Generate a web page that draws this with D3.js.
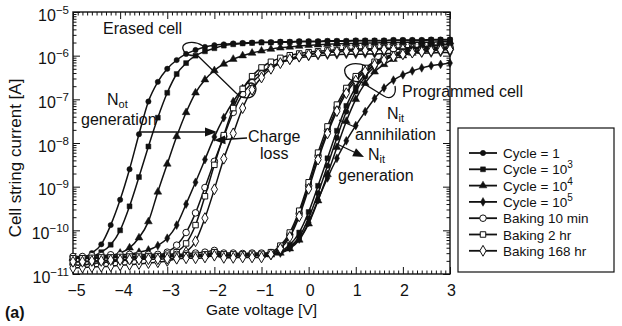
<!DOCTYPE html>
<html><head><meta charset="utf-8">
<script src="https://cdn.jsdelivr.net/npm/d3@7"></script>
<style>
body{margin:0;background:#fff}
svg{display:block}
text{font-family:"Liberation Sans",Arial,Helvetica,sans-serif;fill:#111}
</style>
</head><body>
<svg id="c" width="622" height="326"></svg>
<script>
// Gate voltage grid [V]
const gateV = [-5,-4.8,-4.6,-4.4,-4.2,-4,-3.8,-3.6,-3.4,-3.2,-3,-2.8,-2.6,-2.4,-2.2,-2,-1.8,-1.6,-1.4,-1.2,-1,-0.8,-0.6,-0.4,-0.2,0,0.2,0.4,0.6,0.8,1,1.2,1.4,1.6,1.8,2,2.2,2.4,2.6,2.8,3];

// log10 of cell string current [A] — erased cell
const erasedCycle1   = [-10.64,-10.62,-10.52,-10.32,-9.88,-9.30,-8.60,-7.80,-7.05,-6.60,-6.30,-6.10,-5.96,-5.87,-5.80,-5.76,-5.74,-5.72,-5.71,-5.70,-5.69,-5.69,-5.68,-5.68,-5.67,-5.67,-5.67,-5.66,-5.66,-5.66,-5.65,-5.65,-5.65,-5.65,-5.64,-5.64,-5.64,-5.64,-5.63,-5.63,-5.63];
const erasedCycle1e3 = [-10.64,-10.64,-10.60,-10.50,-10.33,-10.00,-9.45,-8.78,-8.08,-7.42,-6.85,-6.42,-6.17,-6.00,-5.90,-5.83,-5.77,-5.74,-5.72,-5.71,-5.70,-5.70,-5.69,-5.69,-5.68,-5.68,-5.68,-5.67,-5.67,-5.67,-5.66,-5.66,-5.66,-5.66,-5.65,-5.65,-5.65,-5.65,-5.64,-5.64,-5.64];
const erasedCycle1e4 = [-10.64,-10.64,-10.63,-10.61,-10.58,-10.52,-10.40,-10.17,-9.80,-9.12,-8.48,-7.85,-7.30,-6.85,-6.55,-6.34,-6.19,-6.08,-6.00,-5.94,-5.89,-5.85,-5.82,-5.80,-5.78,-5.76,-5.75,-5.74,-5.73,-5.72,-5.72,-5.71,-5.71,-5.70,-5.70,-5.70,-5.69,-5.69,-5.69,-5.68,-5.68];
const erasedCycle1e5 = [-10.64,-10.64,-10.63,-10.62,-10.60,-10.58,-10.55,-10.50,-10.45,-10.35,-10.18,-9.88,-9.40,-8.90,-8.38,-7.86,-7.42,-7.05,-6.75,-6.52,-6.37,-6.26,-6.16,-6.10,-6.05,-6.02,-6.00,-5.99,-5.98,-5.97,-5.97,-5.96,-5.96,-5.95,-5.95,-5.95,-5.94,-5.94,-5.94,-5.93,-5.93];
const erasedBake10   = [-10.78,-10.80,-10.76,-10.74,-10.72,-10.70,-10.68,-10.65,-10.62,-10.58,-10.50,-10.34,-10.05,-9.60,-9.02,-8.42,-7.85,-7.30,-6.88,-6.62,-6.42,-6.27,-6.15,-6.07,-6.01,-5.97,-5.94,-5.92,-5.90,-5.89,-5.88,-5.87,-5.86,-5.85,-5.85,-5.84,-5.84,-5.83,-5.83,-5.82,-5.82];
const erasedBake2h   = [-10.72,-10.72,-10.71,-10.70,-10.69,-10.68,-10.66,-10.65,-10.63,-10.61,-10.58,-10.50,-10.30,-9.88,-9.22,-8.50,-7.82,-7.20,-6.76,-6.47,-6.27,-6.14,-6.05,-5.99,-5.95,-5.92,-5.90,-5.88,-5.87,-5.86,-5.85,-5.84,-5.84,-5.83,-5.83,-5.82,-5.82,-5.81,-5.81,-5.80,-5.80];
const erasedBake168  = [-10.86,-10.85,-10.84,-10.83,-10.82,-10.80,-10.79,-10.77,-10.75,-10.73,-10.70,-10.64,-10.50,-10.25,-9.72,-9.06,-8.36,-7.78,-7.20,-6.78,-6.50,-6.30,-6.17,-6.08,-6.02,-5.98,-5.95,-5.93,-5.91,-5.90,-5.89,-5.88,-5.87,-5.86,-5.86,-5.85,-5.85,-5.85,-5.84,-5.84,-5.84];

// log10 of cell string current [A] — programmed cell
const progCycle1   = [-10.62,-10.62,-10.61,-10.62,-10.60,-10.61,-10.60,-10.60,-10.58,-10.60,-10.58,-10.58,-10.56,-10.58,-10.57,-10.52,-10.56,-10.56,-10.55,-10.55,-10.55,-10.55,-10.50,-10.38,-10.15,-9.72,-9.15,-8.52,-7.88,-7.28,-6.82,-6.48,-6.25,-6.10,-5.99,-5.92,-5.86,-5.82,-5.78,-5.76,-5.74];
const progCycle1e3 = [-10.63,-10.63,-10.62,-10.62,-10.61,-10.61,-10.61,-10.60,-10.60,-10.59,-10.59,-10.58,-10.58,-10.58,-10.57,-10.54,-10.57,-10.56,-10.56,-10.56,-10.55,-10.55,-10.48,-10.33,-10.05,-9.58,-8.98,-8.35,-7.72,-7.15,-6.72,-6.42,-6.20,-6.06,-5.96,-5.89,-5.84,-5.80,-5.77,-5.75,-5.73];
const progCycle1e4 = [-10.63,-10.63,-10.62,-10.62,-10.62,-10.61,-10.61,-10.61,-10.60,-10.60,-10.60,-10.59,-10.59,-10.59,-10.58,-10.55,-10.58,-10.58,-10.57,-10.57,-10.57,-10.56,-10.52,-10.42,-10.22,-9.85,-9.32,-8.72,-8.10,-7.50,-7.00,-6.63,-6.37,-6.20,-6.08,-6.00,-5.94,-5.90,-5.86,-5.83,-5.81];
const progCycle1e5 = [-10.64,-10.64,-10.63,-10.63,-10.63,-10.62,-10.62,-10.62,-10.61,-10.61,-10.61,-10.60,-10.60,-10.60,-10.59,-10.56,-10.59,-10.59,-10.59,-10.58,-10.58,-10.58,-10.52,-10.40,-10.20,-9.82,-9.30,-8.80,-8.35,-7.95,-7.60,-7.28,-6.98,-6.74,-6.56,-6.44,-6.35,-6.28,-6.23,-6.20,-6.17];
const progBake10   = [-10.60,-10.60,-10.58,-10.58,-10.56,-10.56,-10.55,-10.56,-10.55,-10.55,-10.54,-10.55,-10.54,-10.52,-10.50,-10.46,-10.52,-10.52,-10.53,-10.52,-10.52,-10.52,-10.38,-10.10,-9.62,-8.98,-8.30,-7.72,-7.20,-6.80,-6.52,-6.32,-6.17,-6.07,-6.00,-5.95,-5.92,-5.90,-5.88,-5.86,-5.85];
const progBake2h   = [-10.64,-10.64,-10.63,-10.62,-10.62,-10.61,-10.60,-10.60,-10.59,-10.59,-10.58,-10.58,-10.57,-10.56,-10.55,-10.50,-10.55,-10.55,-10.55,-10.54,-10.54,-10.50,-10.35,-10.05,-9.55,-8.90,-8.22,-7.62,-7.12,-6.74,-6.47,-6.28,-6.14,-6.04,-5.97,-5.93,-5.90,-5.88,-5.86,-5.84,-5.83];
const progBake168  = [-10.72,-10.72,-10.70,-10.70,-10.68,-10.68,-10.67,-10.67,-10.66,-10.66,-10.65,-10.65,-10.64,-10.64,-10.62,-10.58,-10.63,-10.63,-10.62,-10.62,-10.62,-10.55,-10.42,-10.15,-9.68,-9.05,-8.38,-7.78,-7.27,-6.86,-6.57,-6.36,-6.21,-6.10,-6.02,-5.97,-5.93,-5.91,-5.89,-5.87,-5.86];

// Legend / series descriptors
const legendLabels = ["Cycle = 1","Cycle = 10","Cycle = 10","Cycle = 10","Baking 10 min","Baking 2 hr","Baking 168 hr"];
const legendSups   = ["","3","4","5","","",""];
const markerTypes  = ["circle","square","triangle","diamond","circle","square","diamond"];
const markerFilled = [true,true,true,true,false,false,false];

// Tick labels
const xTickValues = [-5,-4,-3,-2,-1,0,1,2,3];
const yDecades = [-11,-10,-9,-8,-7,-6,-5];

const erasedSet = [erasedCycle1,erasedCycle1e3,erasedCycle1e4,erasedCycle1e5,erasedBake10,erasedBake2h,erasedBake168];
const progSet   = [progCycle1,progCycle1e3,progCycle1e4,progCycle1e5,progBake10,progBake2h,progBake168];

const svg = d3.select("#c");
const L = 73, R = 450, T = 12, B = 274;
const x = d3.scaleLinear().domain([-5,3]).range([L,R]);
const y = d3.scaleLog().domain([1e-11,1e-5]).range([B,T]);

// minor ticks
const minorX = d3.range(-50,31).map(d=>d/10).filter(v=>Math.abs(v-Math.round(v))>1e-6);
const minorY = [];
for (let e=-11;e<-5;e++) for (let k=2;k<=9;k++) minorY.push(k*Math.pow(10,e));
const majorY = yDecades.map(e=>Math.pow(10,e));

function clean(g){ g.select(".domain").remove(); g.selectAll("line").attr("stroke","#111").attr("stroke-width",1); }

// bottom
svg.append("g").attr("transform",`translate(0,${B})`)
  .call(d3.axisBottom(x).tickValues(minorX).tickSize(-3.5).tickFormat("")).call(clean);
const gb = svg.append("g").attr("transform",`translate(0,${B})`)
  .call(d3.axisBottom(x).tickValues(xTickValues).tickSize(-7).tickPadding(11)
    .tickFormat(d=> d<0 ? "\u2212"+Math.abs(d) : String(d))).call(clean);
gb.selectAll("text").attr("font-size",16).attr("fill","#111")
  .attr("dx", d=> d<0 ? 3 : 1);
// top
svg.append("g").attr("transform",`translate(0,${T})`)
  .call(d3.axisTop(x).tickValues(minorX).tickSize(-3.5).tickFormat("")).call(clean);
svg.append("g").attr("transform",`translate(0,${T})`)
  .call(d3.axisTop(x).tickValues(xTickValues).tickSize(-7).tickFormat("")).call(clean);
// left
svg.append("g").attr("transform",`translate(${L},0)`)
  .call(d3.axisLeft(y).tickValues(minorY).tickSize(-3.5).tickFormat("")).call(clean);
const gl = svg.append("g").attr("transform",`translate(${L},0)`)
  .call(d3.axisLeft(y).tickValues(majorY).tickSize(-7).tickPadding(4).tickFormat("")).call(clean);
gl.selectAll(".tick text").each(function(d,i){
  const t = d3.select(this).attr("font-size",16).attr("fill","#111").attr("dy","0.5em");
  t.append("tspan").text("10");
  t.append("tspan").attr("dy",-7).attr("font-size",11.5).text("\u2212"+Math.abs(yDecades[i]));
});
// right
svg.append("g").attr("transform",`translate(${R},0)`)
  .call(d3.axisRight(y).tickValues(minorY).tickSize(-3.5).tickFormat("")).call(clean);
svg.append("g").attr("transform",`translate(${R},0)`)
  .call(d3.axisRight(y).tickValues(majorY).tickSize(-7).tickFormat("")).call(clean);

// frame
svg.append("rect").attr("x",L).attr("y",T).attr("width",R-L).attr("height",B-T)
  .attr("fill","none").attr("stroke","#111").attr("stroke-width",1.4);

// symbols
const symType = {circle:d3.symbolCircle, square:d3.symbolSquare, triangle:d3.symbolTriangle, diamond:d3.symbolDiamond};
const symSizeFilled = {circle:22, square:24, triangle:26, diamond:22};
const symSizeOpen   = {circle:34, square:30, triangle:30, diamond:34};
function sym(type, filled){
  return d3.symbol().type(symType[type]).size(filled ? symSizeFilled[type] : symSizeOpen[type])();
}

const line = d3.line().x(d=>x(d[0])).y(d=>y(Math.pow(10,d[1]))).curve(d3.curveMonotoneX);
const plot = svg.append("g");
function drawSeries(vals, k){
  const pts = gateV.map((v,i)=>[v, vals[i]]);
  plot.append("path").attr("d",line(pts)).attr("fill","none").attr("stroke","#111").attr("stroke-width",1.5);
  plot.append("g").selectAll("path").data(pts).join("path")
    .attr("transform",d=>`translate(${x(d[0])},${y(Math.pow(10,d[1]))})`)
    .attr("d", sym(markerTypes[k], markerFilled[k]))
    .attr("fill", markerFilled[k] ? "#111" : "#fff")
    .attr("stroke","#111").attr("stroke-width", markerFilled[k] ? 0.5 : 1);
}
erasedSet.forEach((s,k)=>drawSeries(s,k));
progSet.forEach((s,k)=>drawSeries(s,k));

// axis titles
svg.append("text").attr("x",(L+R)/2).attr("y",315).attr("text-anchor","middle")
  .attr("font-size",15.5).text("Gate voltage [V]");
svg.append("text").attr("transform","translate(21,158) rotate(-90)").attr("text-anchor","middle")
  .attr("font-size",17).text("Cell string current [A]");
svg.append("text").attr("x",5).attr("y",318).attr("font-size",16).attr("font-weight","bold").text("(a)");

// annotations
const ann = svg.append("g");
function txt(xp,yp,s,size){ return ann.append("text").attr("x",xp).attr("y",yp).attr("font-size",size||16).text(s); }
txt(103,34,"Erased cell");
const nOt = txt(107,105,"N"); nOt.append("tspan").attr("dy",3).attr("font-size",11).text("ot");
txt(81,125,"generation");
txt(248,142,"Charge");
txt(260,159,"loss");
txt(402,97,"Programmed cell");
const nA = txt(387,119,"N"); nA.append("tspan").attr("dy",3).attr("font-size",11).text("it");
txt(355,140,"annihilation");
const nG = txt(368,160,"N"); nG.append("tspan").attr("dy",3).attr("font-size",11).text("it");
txt(338,181,"generation");

const stroke = p => ann.append("path").attr("d",p).attr("fill","none").attr("stroke","#111").attr("stroke-width",1.3);
const head = p => ann.append("path").attr("d",p).attr("fill","#111");
// N_ot arrow
stroke("M140,132 L207,132"); head("M217,132 L205,127.5 L205,136.5 Z");
// charge loss arrow
stroke("M247,138 L224,139.5"); head("M214,140.2 L225,135.6 L225.6,144.2 Z");
// N_it generation arrow
stroke("M337,144 L355,152.5"); head("M364,157 L352.2,156.3 L356,148.2 Z");
// annihilation leader
stroke("M339,120 L357,128");
// erased loop
stroke("M203,46 C194,40 181,42 183,49 C185,56 193,56 197,55 L236,93 C242,99 252,100 255,93 C258,86 253,81 248,84");
// programmed loop
stroke("M366,66 C354,61 342,65 345,73 C347,80 355,82 361,82 L384,96 C390,100 397,96 395,86");

// legend
const lg = svg.append("g");
lg.append("rect").attr("x",458).attr("y",128).attr("width",156).attr("height",144)
  .attr("fill","#fff").attr("stroke","#111").attr("stroke-width",1.2);
legendLabels.forEach((lab,k)=>{
  const yy = 153 + k*16.3;
  lg.append("line").attr("x1",469).attr("x2",497).attr("y1",yy).attr("y2",yy).attr("stroke","#111").attr("stroke-width",1.8);
  lg.append("path").attr("transform",`translate(483,${yy})`).attr("d",sym(markerTypes[k],markerFilled[k]))
    .attr("fill", markerFilled[k] ? "#111" : "#fff").attr("stroke","#111").attr("stroke-width",markerFilled[k]?0.5:1);
  const t = lg.append("text").attr("x",503).attr("y",yy+5).attr("font-size",13.5).text(lab);
  if (legendSups[k]) t.append("tspan").attr("dy",-6).attr("font-size",10).text(legendSups[k]);
});
</script>
</body></html>
